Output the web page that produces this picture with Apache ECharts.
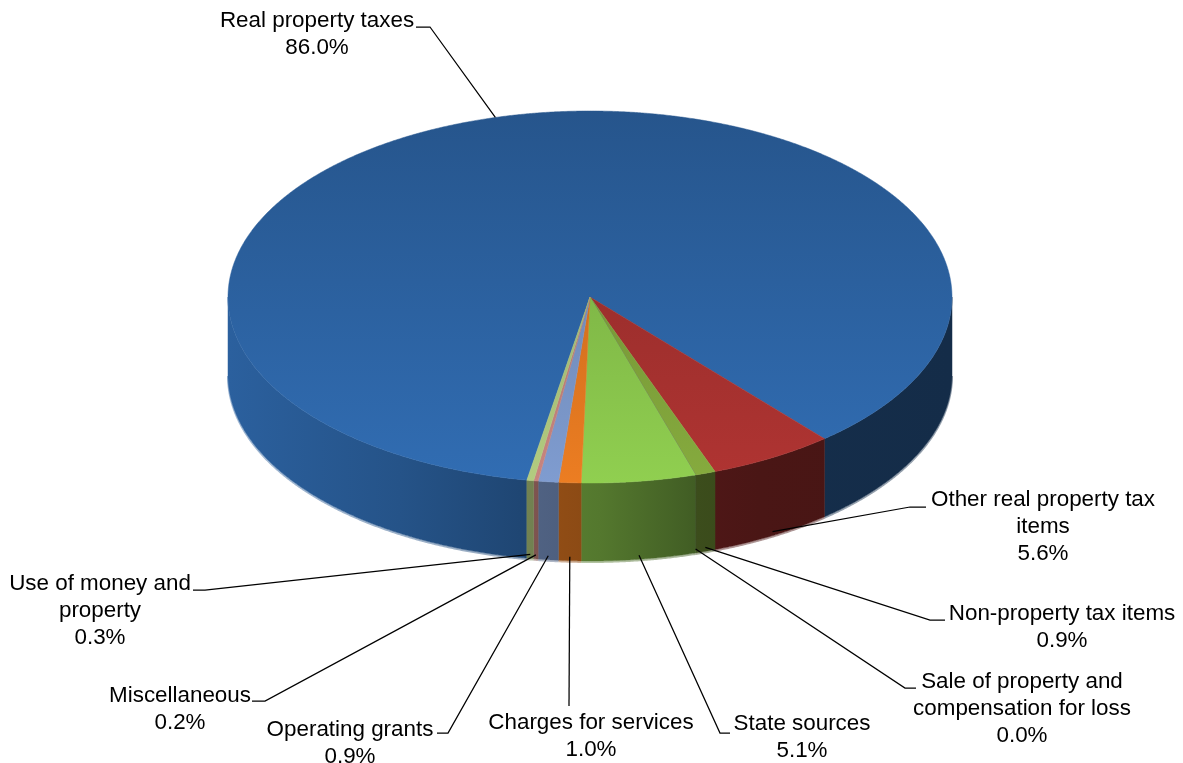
<!DOCTYPE html>
<html>
<head>
<meta charset="utf-8">
<style>html,body{margin:0;padding:0;background:#fff}#chart{width:1183px;height:763px}</style>
<script src="https://cdn.jsdelivr.net/npm/echarts@6/dist/echarts.min.js"></script>
</head>
<body>
<div id="chart"></div>
<script>
// Revenue shares, clockwise from the front of the disc
const names = [
  'Real property taxes',
  'Other real property tax\nitems',
  'Non-property tax items',
  'Sale of property and\ncompensation for loss',
  'State sources',
  'Charges for services',
  'Operating grants',
  'Miscellaneous',
  'Use of money and\nproperty'
];
const shares = [86.0, 5.6, 0.9, 0.0, 5.1, 1.0, 0.9, 0.2, 0.3];
const baseColors = [
  [49, 109, 179], [176, 52, 50], [134, 171, 62], [112, 112, 96], [144, 207, 80],
  [236, 125, 34], [127, 156, 208], [200, 133, 127], [179, 204, 128]
];

// Label placement: text centre x, first-line centre y, elbow x, elbow y, stub end x
const labelBoxes = [
  [317, 20, 430, 27, 416],
  [1043, 499, 910, 507, 926],
  [1062, 613, 930, 620, 945],
  [1022, 681, 905, 688, 916],
  [802, 723, 720, 733, 730],
  [591, 722, 569, 706, 569],
  [350, 729, 448, 733, 437],
  [180, 695, 265, 701, 252],
  [100, 583, 205, 590, 193]
];

// Disc projection
const CX = 590, CY = 297, RX = 362, RY = 186, DEPTH = 78, START = 190.04;
const rim = (deg, dy) => {
  const a = deg * Math.PI / 180;
  return [CX + RX * Math.sin(a), CY - RY * Math.cos(a) + (dy || 0)];
};
const arc = (from, to, dy) => {
  const pts = [];
  const n = Math.max(1, Math.ceil((to - from) / 0.25));
  for (let i = 0; i <= n; i++) pts.push(rim(from + (to - from) * i / n, dy));
  return pts;
};
const tint = (c, f) => 'rgb(' + c.map(v => Math.round(v * f)).join(',') + ')';

// Vertical light across the top face
const topFill = c => ({
  type: 'linear', global: true, x: 0, y: CY - RY, x2: 0, y2: CY + RY,
  colorStops: [{ offset: 0, color: tint(c, 0.78) }, { offset: 1, color: tint(c, 1) }]
});
// Horizontal falloff along the rim wall
const wallStops = [[228, 0.88], [400, 0.76], [520, 0.64], [600, 0.58], [695, 0.45], [760, 0.42], [952, 0.40]];
const wallFill = c => ({
  type: 'linear', global: true, x: CX - RX, y: 0, x2: CX + RX, y2: 0,
  colorStops: wallStops.map(s => ({ offset: (s[0] - (CX - RX)) / (2 * RX), color: tint(c, s[1]) }))
});

// Angular extent of every slice
const total = shares.reduce((a, b) => a + b, 0);
let running = START;
const spans = shares.map(v => {
  const from = running;
  running += v / total * 360;
  return [from, running];
});

function wallPieces(from, to) {
  // The wall is visible between 90 and 270 degrees only, repeated each turn
  const out = [];
  for (const k of [0, 360]) {
    const a = Math.max(from, 90 + k), b = Math.min(to, 270 + k);
    if (b >= a) out.push([a, b]);
  }
  return out;
}

function renderSlice(params) {
  const i = params.dataIndex;
  const [from, to] = spans[i];
  const c = baseColors[i];
  const flat = to - from < 1e-6;
  const children = [];
  wallPieces(from, to).forEach(([a, b]) => {
    if (!flat) {
      // Soft lower lip of the wall
      children.push({
        type: 'polyline',
        shape: { points: arc(a, b, DEPTH + 1) },
        style: { stroke: wallFill(c), lineWidth: 2, fill: null, opacity: 0.45 }
      });
    }
    const points = flat
      ? [rim(a, 0), rim(a, DEPTH - 2)]
      : arc(a, b, 0).concat(arc(a, b, DEPTH).reverse());
    children.push({
      type: flat ? 'polyline' : 'polygon',
      shape: { points },
      style: flat
        ? { stroke: tint(c, 0.55), lineWidth: 1, fill: null }
        : { fill: wallFill(c), stroke: wallFill(c), lineWidth: 0.5 }
    });
  });
  children.push(flat
    ? { type: 'polyline', shape: { points: [[CX, CY], rim(from, 0)] },
        style: { stroke: tint(c, 0.95), lineWidth: 1, fill: null } }
    : { type: 'polygon', shape: { points: [[CX, CY]].concat(arc(from, to, 0)) },
        style: { fill: topFill(c), stroke: topFill(c), lineWidth: 0.5 } });
  return { type: 'group', children };
}

function renderLabel(params) {
  const i = params.dataIndex;
  const [cx, cy, ex, ey, sx] = labelBoxes[i];
  const mid = (spans[i][0] + spans[i][1]) / 2;
  const front = Math.cos(mid * Math.PI / 180) < 0;
  const anchor = rim(mid, front ? DEPTH - 4 : 0);
  return {
    type: 'group',
    children: [
      { type: 'polyline', shape: { points: [anchor, [ex, ey], [sx, ey]] },
        style: { stroke: '#000', lineWidth: 1.25, fill: null } },
      { type: 'text',
        style: {
          text: names[i] + '\n' + shares[i].toFixed(1) + '%',
          x: cx, y: cy - 13, align: 'center', verticalAlign: 'top',
          fill: '#000', font: '22.4px "Liberation Sans", Arial, sans-serif', lineHeight: 27
        } }
    ]
  };
}

const chart = echarts.init(document.getElementById('chart'), null, { renderer: 'canvas' });
chart.setOption({
  animation: false,
  backgroundColor: '#fff',
  series: [
    { type: 'custom', coordinateSystem: 'none', renderItem: renderSlice, silent: true, z: 1,
      data: shares.map((v, i) => ({ name: names[i], value: v })) },
    { type: 'custom', coordinateSystem: 'none', renderItem: renderLabel, silent: true, z: 2,
      data: shares.map((v, i) => ({ name: names[i], value: v })) }
  ]
});
</script>
</body>
</html>
